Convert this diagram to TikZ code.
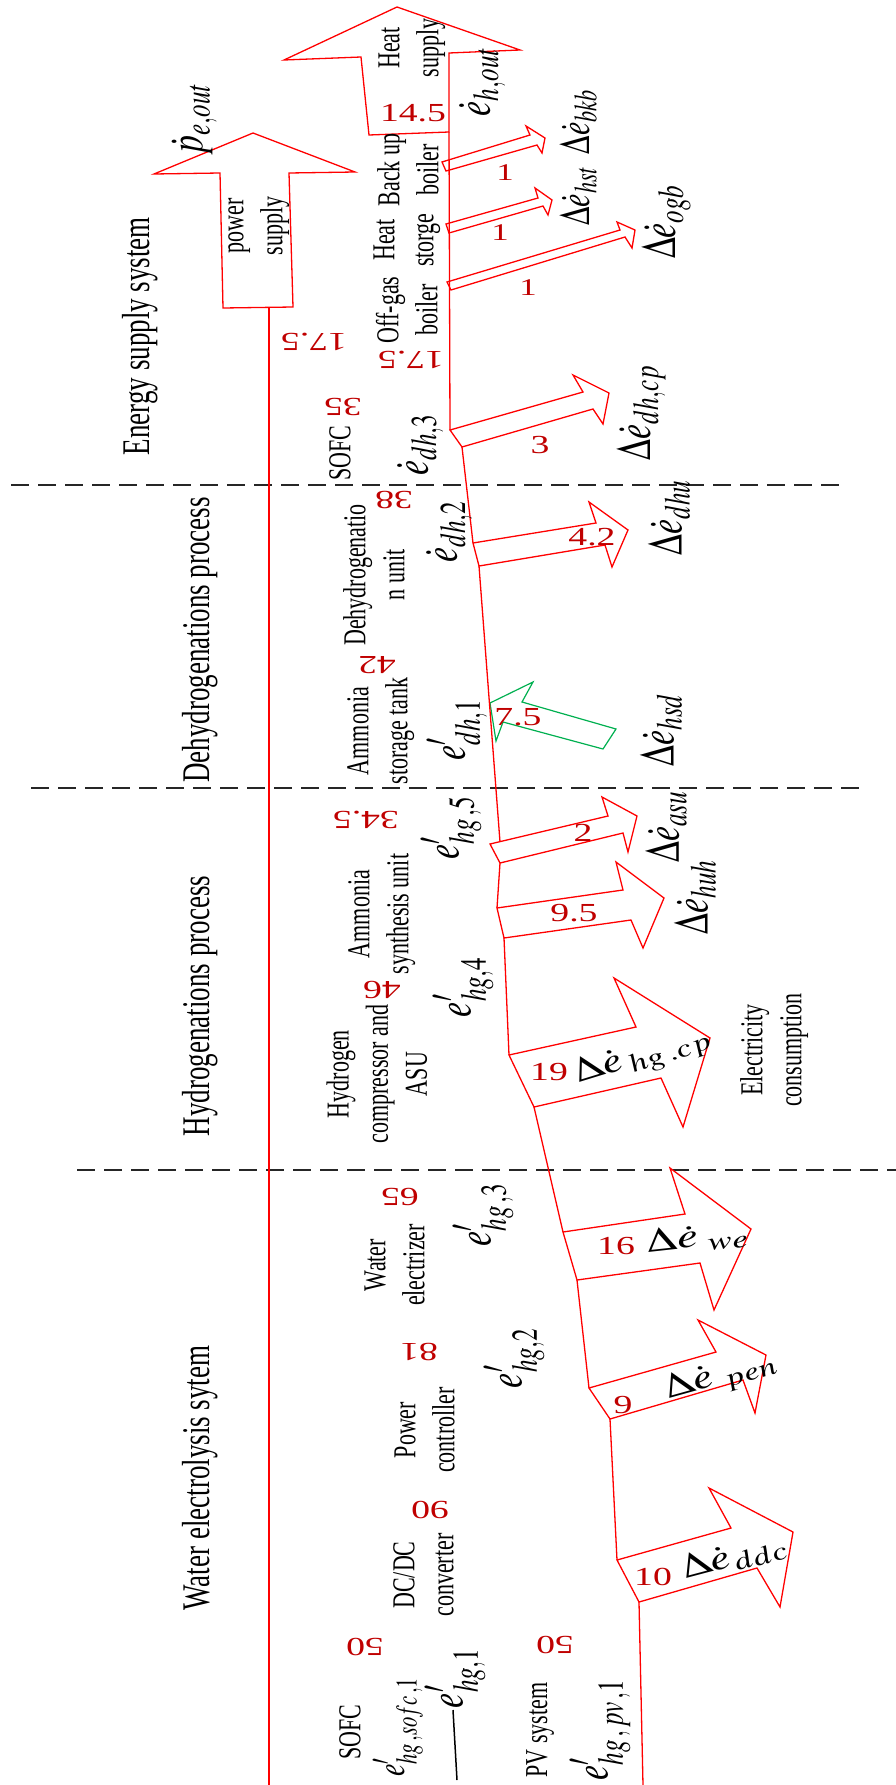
\documentclass[tikz,border=0pt]{standalone}
\usepackage{mathptmx}
\usepackage[no-math]{fontspec}
\setmainfont{Liberation Serif}
\usepackage{graphicx}
\definecolor{lred}{RGB}{255,0,0}
\definecolor{nred}{RGB}{192,0,0}
\definecolor{agreen}{RGB}{0,176,80}
\newcommand\vtext[1]{\scalebox{1.45}[1]{\rotatebox{90}{#1}}}
\newcommand\ftext[1]{\scalebox{1.45}[1]{\rotatebox{180}{#1}}}
\newcommand\htext[1]{\scalebox{1.45}[1]{#1}}
\newcommand\atext[2]{\scalebox{1.45}[1]{\rotatebox{#1}{#2}}}
\newcommand\mlines[1]{\begin{tabular}{@{}c@{}}#1\end{tabular}}
\tikzset{
  complabel/.style={inner sep=0pt, font=\fontsize{22}{27}\selectfont},
  header/.style={inner sep=0pt, font=\fontsize{27}{32}\selectfont},
  rednum/.style={inner sep=0pt, text=nred, font=\fontsize{26}{30}\selectfont},
  smallnum/.style={inner sep=0pt, text=nred, font=\fontsize{24}{28}\selectfont},
  mathlabel/.style={inner sep=0pt, font=\fontsize{34}{40}\selectfont},
  tightmath/.style={inner sep=0pt, font=\fontsize{30}{36}\selectfont},
  mainline/.style={draw=lred, line width=1.3pt},
  bigarrow/.style={draw=lred, fill=white, line width=1.3pt, line join=miter},
  greenarrow/.style={draw=agreen, fill=white, line width=1.2pt},
  divline/.style={draw=black!85, line width=2pt, dash pattern=on 18pt off 9pt},
}
\begin{document}
\begin{tikzpicture}[x=1pt,y=-1pt]
\fill[white] (0,0) rectangle (896,1785);
\useasboundingbox (0,0) rectangle (896,1785);

% section dividers
\coordinate (d1a) at (11,485);  \coordinate (d1b) at (840,485);
\coordinate (d2a) at (31,788);  \coordinate (d2b) at (860,788);
\coordinate (d3a) at (77,1170); \coordinate (d3b) at (896,1170);
\draw[divline] (d1a) -- (d1b);
\draw[divline] (d2a) -- (d2b);
\draw[divline] (d3a) -- (d3b);

% power supply
\coordinate (pw0) at (269,307); \coordinate (pw1) at (269,1785);
\draw[bigarrow] (223,308) -- (220,173) -- (154,174) -- (253,133) -- (355,172) -- (289,173) -- (293,307) -- cycle;
\draw[mainline] (pw0) -- (pw1);

% main line points
\coordinate (m0) at (449,132);
\coordinate (s3a) at (450,430);  \coordinate (s3b) at (462,447);
\coordinate (dhua) at (473,543); \coordinate (dhub) at (479,566);
\coordinate (asuin) at (500,842); \coordinate (asua) at (490,844); \coordinate (asub) at (500,863);
\coordinate (huha) at (497,908); \coordinate (huhb) at (504,938);
\coordinate (cpa) at (509,1055); \coordinate (cpb) at (534,1107);
\coordinate (wea) at (563,1232); \coordinate (web) at (577,1280);
\coordinate (pca) at (589,1388); \coordinate (pcb) at (610,1419);
\coordinate (dca) at (617,1560); \coordinate (dcb) at (639,1602);
\coordinate (mend) at (643,1785);

% heat supply arrow
\draw[bigarrow] (369,135) -- (361,57) -- (284,60) -- (397,7) -- (520,50) -- (449,53) -- (m0) -- cycle;

% thin heat arrows
\draw[bigarrow] (442,162) -- (530,135) -- (526,126) -- (545,138) -- (542,153) -- (537,145) -- (446,171) -- cycle;
\draw[bigarrow] (446,224) -- (538,198) -- (535,188) -- (552,200) -- (548,215) -- (543,206) -- (449,233) -- cycle;
\draw[bigarrow] (447,282) -- (620,230) -- (617,222) -- (635,230) -- (632,248) -- (625,237) -- (451,290) -- cycle;

% loss arrows
\draw[bigarrow] (s3a) -- (583,392) -- (573,375) -- (609,393) -- (603,424) -- (593,409) -- (s3b) -- cycle;
\draw[bigarrow] (dhua) -- (596,523) -- (589,502) -- (628,530) -- (612,567) -- (605,545) -- (dhub) -- cycle;
\draw[greenarrow] (490,703) -- (533,682) -- (522,702) -- (616,729) -- (603,749) -- (503,722) -- (496,741) -- cycle;
\draw[bigarrow] (asua) -- (608,816) -- (602,797) -- (637,816) -- (628,852) -- (623,833) -- (asub) -- cycle;
\draw[bigarrow] (huha) -- (623,890) -- (616,862) -- (664,898) -- (643,948) -- (631,920) -- (huhb) -- cycle;
\draw[bigarrow] (cpa) -- (636,1027) -- (614,978) -- (710,1038) -- (683,1127) -- (661,1078) -- (cpb) -- cycle;
\draw[bigarrow] (wea) -- (685,1214) -- (670,1168) -- (751,1229) -- (714,1310) -- (700,1263) -- (web) -- cycle;
\draw[bigarrow] (pca) -- (716,1352) -- (698,1320) -- (766,1355) -- (755,1413) -- (743,1380) -- (pcb) -- cycle;
\draw[bigarrow] (dca) -- (731,1528) -- (709,1488) -- (793,1532) -- (780,1607) -- (757,1568) -- (dcb) -- cycle;

% main flow line
\draw[mainline] (m0) -- (s3a) (s3b) -- (dhua) (dhub) -- (asuin) (asub) -- (huha)
  (huhb) -- (cpa) (cpb) -- (wea) (web) -- (pca) (pcb) -- (dca) (dcb) -- (mend);

% short black line
\coordinate (bl0) at (453,1710); \coordinate (bl1) at (457,1780);
\draw[line width=1.5pt] (bl0) -- (bl1);

% section headers
\node[header] (hEn) at (140,336) {\vtext{Energy supply system}};
\node[header] (hDe) at (200,640) {\vtext{Dehydrogenations process}};
\node[header] (hHy) at (200,1006) {\vtext{Hydrogenations process}};
\node[header] (hWa) at (200,1478) {\vtext{Water electrolysis sytem}};

% component labels
\node[complabel] (cHeat) at (411,48) {\vtext{\mlines{Heat\\supply}}};
\node[complabel] (cPow) at (255,226) {\vtext{\mlines{power\\supply}}};
\node[complabel] (cBkb) at (411,170) {\vtext{\mlines{Back up\\boiler}}};
\node[complabel] (cHst) at (406,240) {\vtext{\mlines{Heat\\storge}}};
\node[complabel] (cOgb) at (410,310) {\vtext{\mlines{Off-gas\\boiler}}};
\node[complabel] (cSofc) at (340,453) {\vtext{SOFC}};
\node[complabel] (cDhu) at (377,575) {\vtext{\mlines{Dehydrogenatio\\n unit}}};
\node[complabel] (cAst) at (380,731) {\vtext{\mlines{Ammonia\\storage tank}}};
\node[complabel] (cAsu) at (381,914) {\vtext{\mlines{Ammonia\\synthesis unit}}};
\node[complabel] (cHcp) at (380,1074) {\vtext{\mlines{Hydrogen\\compressor and\\ASU}}};
\node[complabel] (cEle) at (774,1050) {\vtext{\mlines{Electricity\\consumption}}};
\node[complabel] (cWe) at (397,1265) {\vtext{\mlines{Water\\electrizer}}};
\node[complabel] (cPc) at (427,1430) {\vtext{\mlines{Power\\controller}}};
\node[complabel] (cDc) at (426,1575) {\vtext{\mlines{DC/DC\\converter}}};
\node[complabel] (cSofc2) at (350,1732) {\vtext{SOFC}};
\node[complabel] (cPv) at (540,1730) {\vtext{PV system}};

% red values (upside down)
\node[rednum] (v1) at (314,342) {\ftext{17.5}};
\node[rednum] (v2) at (411,360) {\ftext{17.5}};
\node[rednum] (v3) at (343,407) {\ftext{35}};
\node[rednum] (v4) at (394,500) {\ftext{38}};
\node[rednum] (v5) at (377,665) {\ftext{42}};
\node[rednum] (v6) at (366,820) {\ftext{34.5}};
\node[rednum] (v7) at (382,990) {\ftext{46}};
\node[rednum] (v8) at (400,1197) {\ftext{65}};
\node[rednum] (v9) at (419,1352) {\ftext{81}};
\node[rednum] (v10) at (430,1510) {\ftext{90}};
\node[rednum] (v11) at (365,1647) {\ftext{50}};
\node[rednum] (v12) at (555,1645) {\ftext{50}};

% red values (upright)
\node[rednum] (u0) at (413,113) {\htext{14.5}};
\node[smallnum] (u1) at (505,173) {\htext{1}};
\node[smallnum] (u2) at (500,233) {\htext{1}};
\node[smallnum] (u3) at (528,288) {\htext{1}};
\node[rednum] (u4) at (540,445) {\htext{3}};
\node[rednum] (u5) at (592,537) {\htext{4.2}};
\node[rednum] (u6) at (518,717) {\htext{7.5}};
\node[rednum] (u7) at (583,833) {\htext{2}};
\node[rednum] (u8) at (574,913) {\htext{9.5}};
\node[rednum] (u9) at (549,1072) {\htext{19}};
\node[rednum] (u10) at (616,1246) {\htext{16}};
\node[rednum] (u11) at (623,1405) {\htext{9}};
\node[rednum] (u12) at (653,1577) {\htext{10}};

% math labels
\node[mathlabel] (eP) at (194,119) {\vtext{$\dot{p}_{e,out}$}};
\node[mathlabel] (eH) at (482,82) {\vtext{$\dot{e}_{h,out}$}};
\node[tightmath] (eBkb) at (578,122) {\vtext{$\Delta\dot{e}_{bkb}$}};
\node[tightmath] (eHst) at (578,196) {\vtext{$\Delta\dot{e}_{hst}$}};
\node[mathlabel] (eOgb) at (666,222) {\vtext{$\Delta\dot{e}_{ogb}$}};
\node[mathlabel] (eDh3) at (420,445) {\vtext{$\dot{e}_{dh,3}$}};
\node[mathlabel] (eDhcp) at (641,413) {\vtext{$\Delta\dot{e}_{dh,cp}$}};
\node[mathlabel] (eDh2) at (449,532) {\vtext{$\dot{e}_{dh,2}$}};
\node[mathlabel] (eDhu) at (669,518) {\vtext{$\Delta\dot{e}_{dhu}$}};
\node[mathlabel] (eDh1) at (457,730) {\vtext{$e'_{dh,1}$}};
\node[mathlabel] (eHsd) at (661,730) {\vtext{$\Delta\dot{e}_{hsd}$}};
\node[mathlabel] (eHg5) at (451,828) {\vtext{$e'_{hg\,,5}$}};
\node[mathlabel] (eAsu) at (666,827) {\vtext{$\Delta\dot{e}_{asu}$}};
\node[mathlabel] (eHuh) at (695,897) {\vtext{$\Delta\dot{e}_{huh}$}};
\node[mathlabel] (eHg4) at (463,987) {\vtext{$e'_{hg,4}$}};
\node[mathlabel] (eHgcp) at (642,1057) {\atext{24}{$\Delta\dot{e}_{\,hg\,.cp}$}};
\node[mathlabel] (eWe) at (697,1238) {\atext{9}{$\Delta\dot{e}_{\;we}$}};
\node[mathlabel] (eHg3) at (483,1215) {\vtext{$e'_{hg\,,3}$}};
\node[mathlabel] (ePen) at (720,1377) {\atext{22}{$\Delta\dot{e}_{\;pen}$}};
\node[mathlabel] (eHg2) at (514,1358) {\vtext{$e'_{hg,2}$}};
\node[mathlabel] (eDdc) at (733,1557) {\atext{21}{$\Delta\dot{e}_{ddc}$}};
\node[tightmath, font=\fontsize{28}{34}\selectfont] (eSofc) at (398,1727) {\vtext{$e'_{hg\,,sofc\,,1}$}};
\node[mathlabel] (eHg1) at (455,1678) {\vtext{$e'_{hg,1}$}};
\node[mathlabel] (ePv) at (600,1730) {\vtext{$e'_{hg\,,\,pv\,,1}$}};
\end{tikzpicture}
\end{document}
